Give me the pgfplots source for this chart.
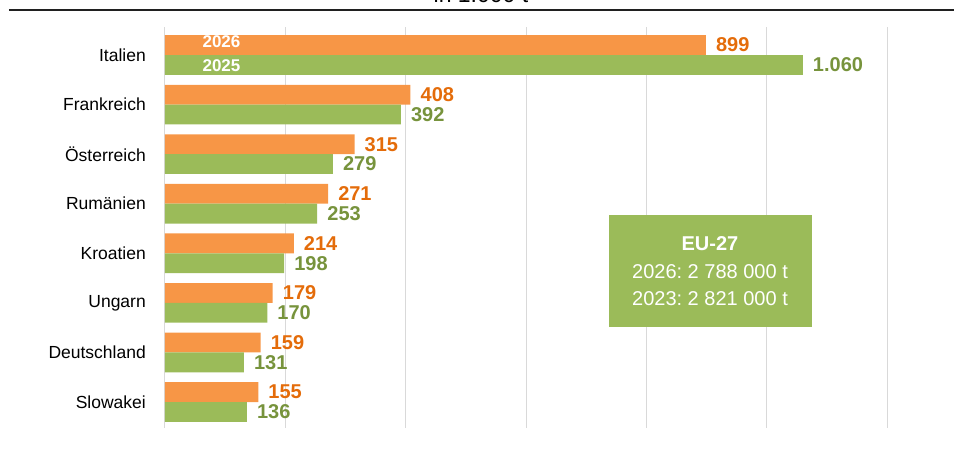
\documentclass[border=0pt]{standalone}
\usepackage{pgfplots}
\pgfplotsset{compat=1.18}
\usepackage{fontspec}
\setmainfont{Liberation Sans}
\definecolor{barorange}{HTML}{F79646}
\definecolor{bargreen}{HTML}{9BBB59}
\definecolor{txtorange}{HTML}{E46C0A}
\definecolor{txtgreen}{HTML}{77933C}
\definecolor{gridgray}{HTML}{D9D9D9}
\begin{document}
\frenchspacing
\begin{tikzpicture}
\begin{axis}[
  scale only axis,
  width=722pt, height=401pt,
  xbar, bar width=0.4,
  xmin=0, xmax=1200,
  ymin=-0.524, ymax=7.565,
  xtick={0,200,...,1200}, xticklabels={},
  xmajorgrids, grid style={gridgray, line width=1pt},
  ytick={0,1,2,3,4,5,6,7},
  yticklabels={Slowakei,Deutschland\hspace{6pt},Ungarn,Kroatien,Rumänien,Österreich,Frankreich,Italien},
  yticklabel style={font=\fontsize{17.5}{20}\selectfont, inner sep=0pt, xshift=-19pt, anchor=east},
  major tick length=0pt,
  axis line style={draw=none},
  /pgf/number format/assume math mode=true,
  /pgf/number format/1000 sep={.},
  nodes near coords,
  every node near coord/.append style={anchor=west, inner sep=0pt, xshift=10pt, font=\fontsize{20}{22}\selectfont\bfseries},
]
\addplot[fill=barorange, draw=none, bar shift=0.2, every node near coord/.append style={text=txtorange}] coordinates {
(899,7) (408,6) (315,5) (271,4) (214,3) (179,2) (159,1) (155,0)};
\addplot[fill=bargreen, draw=none, bar shift=-0.2, every node near coord/.append style={text=txtgreen}] coordinates {
(1060,7) (392,6) (279,5) (253,4) (198,3) (170,2) (131,1) (136,0)};
\end{axis}
% inner labels
\node[text=white, font=\fontsize{17}{19}\selectfont\bfseries, inner sep=0pt] at (56.5pt,386pt) {2026};
\node[text=white, font=\fontsize{17}{19}\selectfont\bfseries, inner sep=0pt] at (56.5pt,362.5pt) {2025};
% EU box
\fill[bargreen] (444pt,101pt) rectangle (647pt,213pt);
\node[text=white, font=\fontsize{20}{22}\selectfont\bfseries, inner sep=0pt] at (545pt,184pt) {EU-27};
\node[text=white, font=\fontsize{20}{22}\selectfont, inner sep=0pt] at (545pt,156pt) {2026: 2 788 000 t};
\node[text=white, font=\fontsize{20}{22}\selectfont, inner sep=0pt] at (545pt,129pt) {2023: 2 821 000 t};
% title and rule
\node[anchor=base, font=\fontsize{23}{25}\selectfont, inner sep=0pt] at (316pt,425pt) {in 1.000 t};
\draw[line width=1.5pt, gray!25!black] (-156pt,418pt) -- (789pt,418pt);
\pgfresetboundingbox
\useasboundingbox (-165pt,-29pt) rectangle (789pt,428pt);
\end{tikzpicture}
\end{document}
